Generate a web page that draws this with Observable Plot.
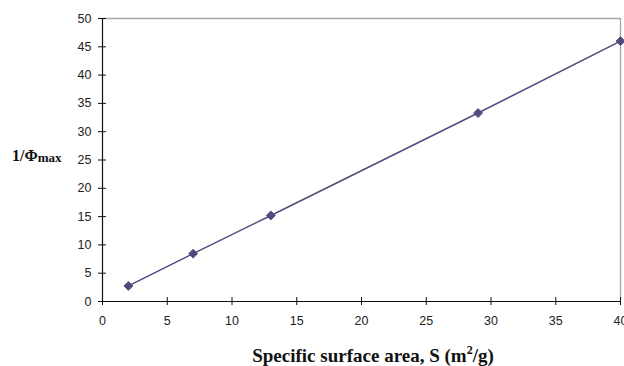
<!DOCTYPE html>
<html>
<head>
<meta charset="utf-8">
<script src="https://cdn.jsdelivr.net/npm/d3@7"></script>
<script src="https://cdn.jsdelivr.net/npm/@observablehq/plot@0.6"></script>
<style>
  html, body { margin: 0; padding: 0; background: #fff; }
  #chart { width: 624px; height: 366px; }
</style>
</head>
<body>
<div id="chart"></div>
<script>
// Data
const surfaceArea = [2, 7, 13, 29, 40];          // S (m²/g)
const inversePhiMax = [2.75, 8.45, 15.2, 33.3, 46.0]; // 1/Φmax
const xTicks = [0, 5, 10, 15, 20, 25, 30, 35, 40];
const yTicks = [0, 5, 10, 15, 20, 25, 30, 35, 40, 45, 50];
const xTitle = "Specific surface area, S (m";
const yTitleMain = "1/Φ";
const yTitleSub = "max";

const data = surfaceArea.map((s, i) => ({s, v: inversePhiMax[i]}));

const lineColor = "#4e4c7c";
const tickFont = "Liberation Sans, Arial, sans-serif";

const plot = Plot.plot({
  width: 624,
  height: 366,
  marginLeft: 102,
  marginRight: 4,
  marginTop: 18,
  marginBottom: 65,
  style: {background: "#fff", fontFamily: tickFont, fontSize: "12px", color: "#222"},
  x: {domain: [0, 40]},
  y: {domain: [0, 50]},
  marks: [
    Plot.ruleY([50], {stroke: "#a6a6a6", strokeWidth: 1.3}),
    Plot.ruleX([40], {stroke: "#a6a6a6", strokeWidth: 1.3}),
    Plot.ruleY([0], {stroke: "#111", strokeWidth: 1.2}),
    Plot.ruleX([0], {stroke: "#111", strokeWidth: 1.2}),
    Plot.axisX(xTicks, {tickSize: 8, dy: -4, text: null, stroke: "#111", label: null}),
    Plot.axisY(yTicks, {tickSize: 8, dx: 4, text: null, stroke: "#111", label: null}),
    Plot.axisX(xTicks, {tickSize: 0, tickPadding: 15, label: null, fill: "#222", fontSize: 12.5}),
    Plot.axisY(yTicks, {tickSize: 0, tickPadding: 11, label: null, fill: "#222", fontSize: 12.5}),
    Plot.line(data, {x: "s", y: "v", stroke: lineColor, strokeWidth: 1.5}),
    Plot.dot(data, {x: "s", y: "v", symbol: "diamond2", r: 4, fill: lineColor, stroke: lineColor, strokeWidth: 1})
  ]
});

const svg = d3.select(plot);
const serif = "Liberation Serif, 'Times New Roman', serif";

const yt = svg.append("text")
  .attr("x", 12)
  .attr("y", 161)
  .attr("text-anchor", "start")
  .attr("font-family", serif)
  .attr("font-weight", "bold")
  .attr("font-size", 16)
  .attr("fill", "#111");
yt.append("tspan").text(yTitleMain);
yt.append("tspan").attr("font-size", 13).attr("dy", 1).text(yTitleSub);

const xt = svg.append("text")
  .attr("x", 373)
  .attr("y", 362)
  .attr("text-anchor", "middle")
  .attr("font-family", serif)
  .attr("font-weight", "bold")
  .attr("font-size", 19)
  .attr("fill", "#111");
xt.append("tspan").text(xTitle);
xt.append("tspan").attr("font-size", 12).attr("dy", -8).text("2");
xt.append("tspan").attr("dy", 8).text("/g)");

document.getElementById("chart").appendChild(plot);
</script>
</body>
</html>
